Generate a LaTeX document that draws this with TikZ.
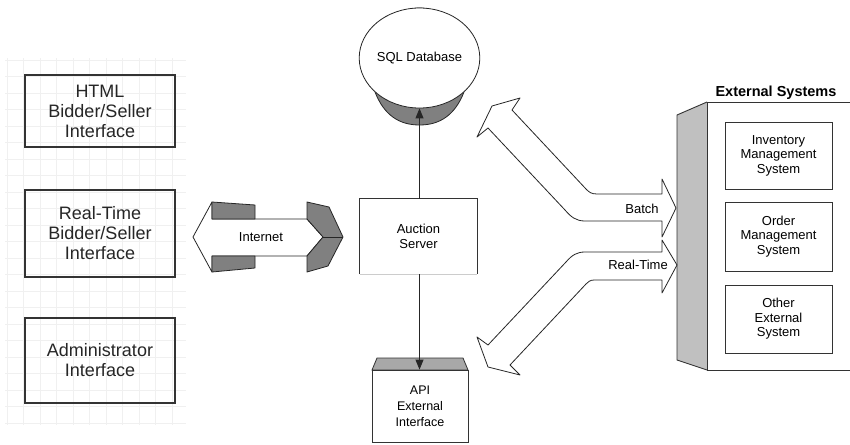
\documentclass[tikz,border=0pt]{standalone}
\usepackage{fontspec}
\setmainfont{Liberation Sans}
\usetikzlibrary{arrows.meta,shapes.geometric}
\definecolor{boxline}{HTML}{333333}
\definecolor{darkfill}{HTML}{808080}
\definecolor{sidefill}{HTML}{C0C0C0}
\definecolor{topfill}{HTML}{A8A8A8}
\tikzset{
  bigbox/.style={draw=boxline, line width=2.3pt, minimum width=150pt, align=center, inner sep=0pt,
    font=\fontsize{18}{20}\selectfont, text=black!85},
  smallbox/.style={draw=black!80, line width=0.8pt, align=center, inner sep=0pt,
    font=\fontsize{13}{14.5}\selectfont},
  smalltext/.style={font=\fontsize{13}{14.5}\selectfont, inner sep=0pt, align=center},
  blockarrow/.style={draw=black!85, line width=0.8pt, fill=white, line join=round},
  connector/.style={draw=black!85, line width=0.9pt, -{Triangle[length=10pt,width=8pt]}},
}
\begin{document}
\begin{tikzpicture}[x=1pt,y=-1pt]
\useasboundingbox (0,0) rectangle (850,444);
\clip (0,0) rectangle (850,444);
\fill[white] (0,0) rectangle (850,444);
% faint grid
\foreach \gx in {7,23.5,...,186} \draw[black!6, line width=0.6pt] (\gx,58) -- (\gx,425);
\foreach \gy in {60,76.5,...,426} \draw[black!6, line width=0.6pt] (5,\gy) -- (186,\gy);
% left boxes
\node[bigbox, minimum height=72pt] (html) at (100,111) {HTML\\Bidder/Seller\\Interface};
\node[bigbox, minimum height=87pt] (rt) at (100,233.5) {Real-Time\\Bidder/Seller\\Interface};
\node[bigbox, minimum height=85pt] (admin) at (100,360.5) {Administrator\\Interface};
% Internet block arrow
\draw[blockarrow] (193,237) -- (212,202) -- (212,219) -- (307,219) -- (323,237) -- (307,256) -- (212,256) -- (212,272) -- cycle;
\draw[blockarrow, fill=darkfill] (212,202) -- (255,205) -- (255,219) -- (212,219) -- cycle;
\draw[blockarrow, fill=darkfill] (212,256) -- (255,256) -- (255,268) -- (212,272) -- cycle;
\draw[blockarrow, fill=darkfill] (307,202) -- (329,207) -- (343,237) -- (328,266) -- (307,272) -- (307,256) -- (323,237) -- (307,219) -- cycle;
\draw[blockarrow] (323,237) -- (343,237);
\node[font=\fontsize{13}{14}\selectfont, inner sep=0pt] (inet) at (261,237) {Internet};
% SQL database
\draw[draw=black!85, line width=0.8pt, fill=darkfill] (372,58) .. controls (372,30) and (395,8) .. (419.5,8) .. controls (444,8) and (467,30) .. (467,58) -- (464,92) .. controls (455,115) and (440,125) .. (419.5,125) .. controls (399,125) and (384,115) .. (375,92) -- cycle;
\node[ellipse, draw=black!85, line width=0.8pt, fill=white, minimum width=95pt, minimum height=100pt, inner sep=0pt,
  font=\fontsize{13}{14}\selectfont] (db) at (419.5,58) {SQL Database};
% Auction server
\node[smalltext, minimum width=117pt, minimum height=75pt] (server) at (418.5,236.5) {Auction\\Server};
\draw[black!80, line width=0.8pt] (server.south west) -- (server.north west) -- (server.north east) -- (server.south east);
\draw[black!20, line width=0.8pt] (server.south west) -- (server.south east);
% API box
\draw[draw=black!80, line width=0.8pt, fill=topfill] (377,358) -- (463,358) -- (468,370) -- (372,370) -- cycle;
\node[smallbox, minimum width=96pt, minimum height=72pt, font=\fontsize{12.5}{16}\selectfont] (api) at (420,406) {API\\External\\Interface};
% connectors
\draw[connector] (server.north -| db.south) -- (db.south);
\draw[connector] (server.south -| db.south) -- (db.south |- api.north);
% External systems panel
\fill[sidefill] (677,115) -- (707,102) -- (707,370) -- (677,360) -- cycle;
\draw[black!80, line width=0.9pt] (707,102) -- (677,115) -- (677,360) -- (707,370);
\draw[black!80, line width=0.9pt] (852,102) -- (707,102) -- (707,370) -- (852,370);
\node[font=\bfseries\fontsize{14.5}{16}\selectfont, inner sep=0pt] (exttitle) at (776,93) {External Systems};
\node[smallbox, minimum width=107pt, minimum height=67pt] (inv) at (778.5,155.5) {Inventory\\Management\\System};
\node[smallbox, minimum width=107pt, minimum height=69pt] (ord) at (778.5,236.5) {Order\\Management\\System};
\node[smallbox, minimum width=107pt, minimum height=68pt] (oth) at (778.5,319) {Other\\External\\System};
% Batch arrow
\draw[blockarrow] (676,208) -- (662,179) -- (662,194) -- (597,194) .. controls (591,194) and (589,192) .. (586,189) -- (512,110) -- (520,98) -- (492,106) -- (477,137) -- (488,128) -- (565,210) .. controls (571,217) and (576,221) .. (585,221) -- (662,221) -- (662,237) -- cycle;
% Real-Time arrow
\draw[blockarrow] (677,265) -- (662,240) -- (662,252) -- (585,252) .. controls (577,252) and (572,255) .. (566,262) -- (488,345) -- (477,337) -- (488,367) -- (520,375) -- (510,365) -- (586,284) .. controls (588,282) and (590,280) .. (594,280) -- (662,280) -- (662,293) -- cycle;
\node[smalltext] (batch) at (642,209) {Batch};
\node[smalltext] (realtime) at (638,265) {Real-Time};
\end{tikzpicture}
\end{document}
